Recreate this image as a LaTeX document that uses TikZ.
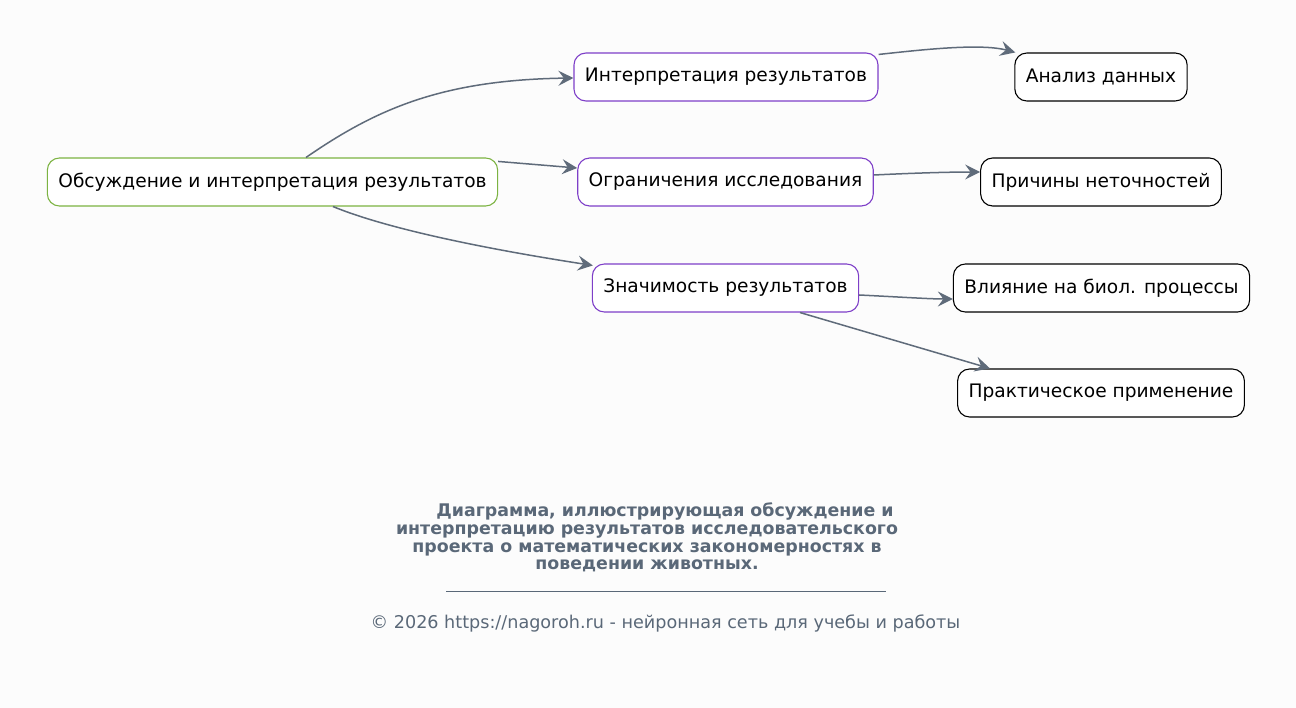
\documentclass[tikz,border=0pt]{standalone}
\usepackage{fontspec}
\setmainfont{DejaVu Sans}
\usetikzlibrary{arrows.meta,calc}
\definecolor{bg}{HTML}{FCFCFC}
\definecolor{edge}{HTML}{5F6B7A}
\definecolor{rootc}{HTML}{7CB342}
\definecolor{midc}{RGB}{126,63,200}
\definecolor{titlec}{HTML}{5A6878}
\tikzset{
  box/.style={draw, line width=1.1pt, rounded corners=12pt, minimum height=48pt, inner xsep=11pt, fill=white, text=black, font=\fontsize{18.6}{22}\selectfont},
  rootbox/.style={box, draw=rootc},
  midbox/.style={box, draw=midc},
  leafbox/.style={box, draw=black},
  conn/.style={draw=edge, line width=1.5pt, -{Stealth[length=15pt,width=15pt,inset=5.5pt]}},
}
\begin{document}
\begin{tikzpicture}[x=1pt,y=-1pt]
\fill[bg] (0,0) rectangle (1296,708);
\useasboundingbox (0,0) rectangle (1296,708);
\node[rootbox] (root) at (272.5,182) {Обсуждение и интерпретация результатов};
\node[midbox] (interp) at (726,77) {Интерпретация результатов};
\node[midbox] (ogr) at (725.5,182) {Ограничения исследования};
\node[midbox] (znach) at (725.5,288) {Значимость результатов};
\node[leafbox] (analiz) at (1101,77) {Анализ данных};
\node[leafbox] (prich) at (1101,182) {Причины неточностей};
\node[leafbox] (vliy) at (1101.5,288) {Влияние на биол. процессы};
\node[leafbox] (prakt) at (1101,393) {Практическое применение};

\draw[conn] ($(root.north)+(33.5,0)$) .. controls (375,110) and (440,80) .. ($(interp.west)+(0,1)$);
\draw[conn] ($(root.north east)+(0,4)$) -- ($(ogr.west)+(0,-14)$);
\draw[conn] ($(root.south)+(60.5,0)$) .. controls (385,228) and (480,248) .. ($(znach.north west)+(1,2)$);
\draw[conn] ($(interp.north east)+(0,2)$) .. controls (920,50) and (980,43) .. ($(analiz.north west)+(1,0)$);
\draw[conn] ($(ogr.east)+(0,-7)$) .. controls (915,173) and (950,172) .. ($(prich.west)+(0,-10)$);
\draw[conn] ($(znach.east)+(0,7)$) .. controls (900,297) and (930,299) .. ($(vliy.west)+(0,11)$);
\draw[conn] ($(znach.south)+(74.5,0)$) -- ($(prakt.north)+(-111,0)$);

\node[text=titlec, font=\bfseries\fontsize{17.4}{17.7}\selectfont, align=center] (title) at (647,537.5)
  {\hspace*{36pt}Диаграмма, иллюстрирующая обсуждение и\\интерпретацию результатов исследовательского\\проекта о математических закономерностях в\\поведении животных.};
\coordinate (ul) at (446,591);
\coordinate (ur) at (886,591);
\draw[titlec, line width=0.8pt] (ul) -- (ur);
\node[text=titlec, font=\fontsize{17.6}{20}\selectfont] (foot) at (665.5,623) {© 2026 https://nagoroh.ru - нейронная сеть для учебы и работы};
\end{tikzpicture}
\end{document}
